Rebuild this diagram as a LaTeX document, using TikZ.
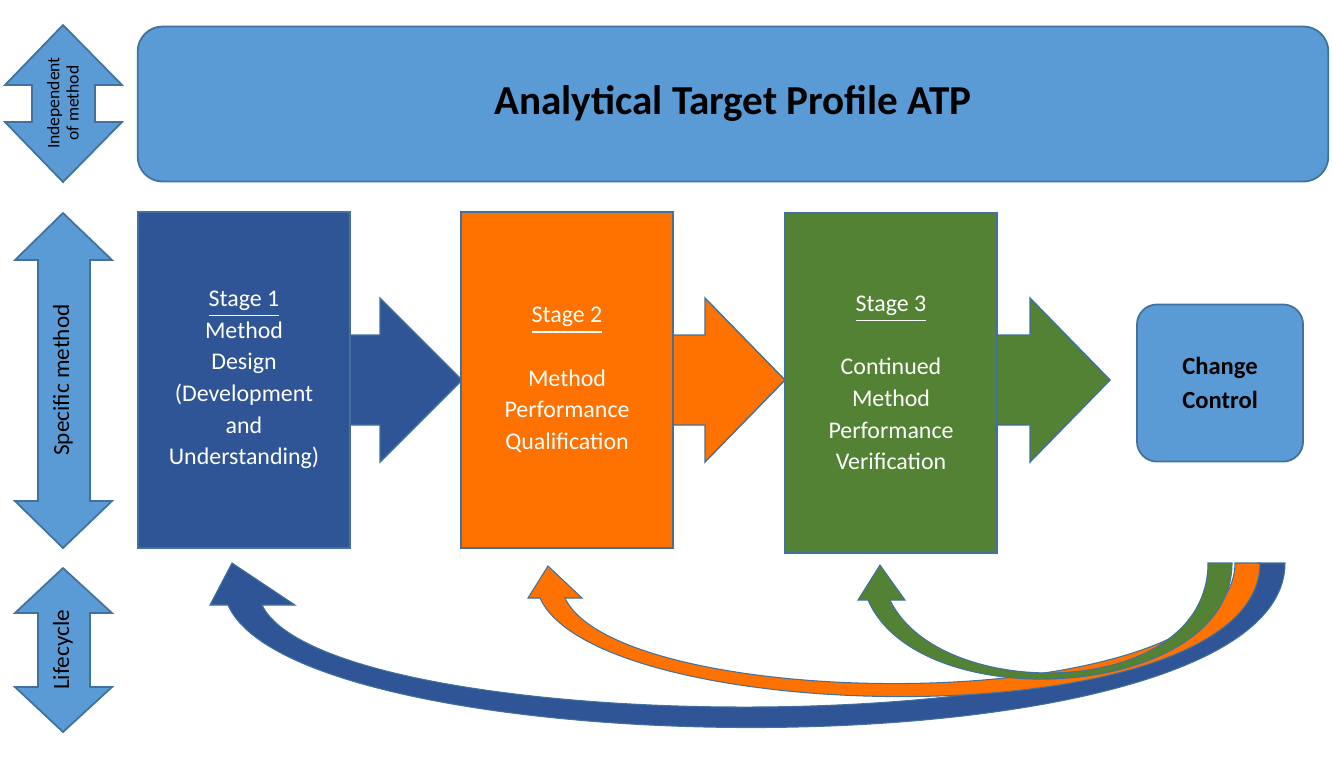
\documentclass[tikz,border=0pt]{standalone}
\usepackage{fontspec}
\setmainfont{Carlito}
\definecolor{lblue}{HTML}{5B9BD5}
\definecolor{lbord}{HTML}{41719C}
\definecolor{dblue}{HTML}{2F5597}
\definecolor{orng}{HTML}{FF7200}
\definecolor{grn}{HTML}{548235}
\tikzset{
 stage/.style={draw=lbord,line width=0.6pt,minimum width=2.12cm,minimum height=3.35cm,inner sep=0pt,
  text=white,align=center,font=\fontsize{6.8}{9}\selectfont},
 dbl/.style={fill=lblue,draw=lbord,line width=0.5pt},
 side/.style={rotate=90,align=center,font=\fontsize{6.6}{7}\selectfont}
}
\begin{document}
\begin{tikzpicture}[x=0.01cm,y=-0.01cm]
\useasboundingbox (0,0) rectangle (1333,756);
% left double arrows
\draw[dbl] (63,25) -- (122,85) -- (95,85) -- (95,122) -- (122,122) -- (63,182) -- (5,122) -- (32,122) -- (32,85) -- (5,85) -- cycle;
\draw[dbl] (63,213) -- (112,260) -- (90,260) -- (90,501) -- (112,501) -- (63,548) -- (15,501) -- (38,501) -- (38,260) -- (15,260) -- cycle;
\draw[dbl] (63,568) -- (112,613) -- (90,613) -- (90,687) -- (112,687) -- (63,732) -- (15,687) -- (38,687) -- (38,613) -- (15,613) -- cycle;
\node[side,font=\fontsize{5}{5.5}\selectfont] (indep) at (63,103) {Independent\\of method};
\node[side] (spec) at (63,380) {Specific method};
\node[side] (life) at (63,650) {Lifecycle};
% ATP
\node[dbl,rounded corners=0.25cm,minimum width=11.9cm,minimum height=1.55cm,
 font=\fontsize{11.7}{13}\selectfont\bfseries] (atp) at (733,104) {Analytical Target Profile ATP};
% block arrows
\draw[fill=dblue,draw=lbord] (340,335) -- (380,335) -- (380,298) -- (462,380) -- (380,462) -- (380,425) -- (340,425) -- cycle;
\draw[fill=orng,draw=lbord] (663,335) -- (705,335) -- (705,298) -- (785,380) -- (705,462) -- (705,425) -- (663,425) -- cycle;
\draw[fill=grn,draw=lbord] (987,335) -- (1030,335) -- (1030,298) -- (1110,380) -- (1030,462) -- (1030,425) -- (987,425) -- cycle;
% stages
\node[stage,fill=dblue] (s1) at (244,380) {\underline{Stage 1}\\Method\\Design\\(Development\\and\\Understanding)};
\node[stage,fill=orng] (s2) at (567,380) {\underline{Stage 2}\\[9pt]Method\\Performance\\Qualification};
\node[stage,fill=grn,minimum height=3.4cm] (s3) at (891,383) {\underline{Stage 3}\\[9pt]Continued\\Method\\Performance\\Verification};
\node[dbl,rounded corners=0.2cm,minimum width=1.66cm,minimum height=1.57cm,align=center,
 font=\fontsize{7}{9.5}\selectfont\bfseries] (cc) at (1220,383) {Change\\Control};
% feedback arrows
\draw[fill=dblue,draw=lbord,line width=0.3pt] (1258,563) -- (1285,563) .. controls (1285,780) and (300,770) .. (228,605) -- (210,605) -- (232,563) -- (295,605) -- (262,605) .. controls (330,745) and (1258,750) .. (1258,563) -- cycle;
\draw[fill=orng,draw=lbord,line width=0.3pt] (1235,563) -- (1260,563) .. controls (1260,740) and (600,730) .. (540,598) -- (528,598) -- (548,566) -- (582,598) -- (565,598) .. controls (620,715) and (1235,720) .. (1235,563) -- cycle;
\draw[fill=grn,draw=lbord,line width=0.3pt] (1208,563) -- (1232,563) .. controls (1232,700) and (920,720) .. (868,600) -- (858,600) -- (880,565) -- (905,600) -- (890,600) .. controls (940,705) and (1208,700) .. (1208,563) -- cycle;
\end{tikzpicture}
\end{document}
